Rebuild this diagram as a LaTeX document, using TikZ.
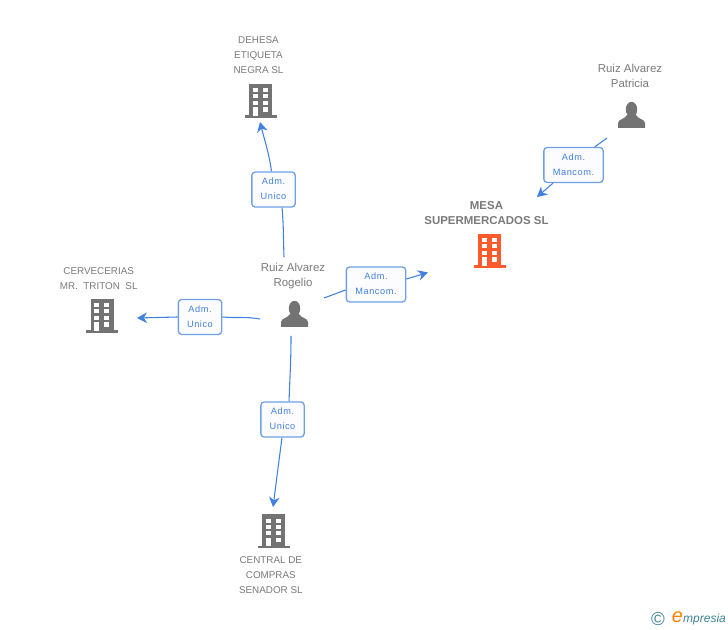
\documentclass[tikz,border=0pt]{standalone}
\usepackage{fontspec}
\setmainfont{Liberation Sans}
\usetikzlibrary{positioning,arrows.meta}

\definecolor{linkblue}{HTML}{4080E0}
\definecolor{icongray}{HTML}{737373}
\definecolor{textgray}{HTML}{7A7A7A}
\definecolor{mesared}{HTML}{FF5A2B}
\definecolor{logoteal}{HTML}{3F8296}

\tikzset{
  x=0.75pt, y=-0.75pt,
  entity/.style={text=textgray, font=\fontsize{7.4}{11.25}\selectfont, align=center, inner sep=0pt},
  mainentity/.style={entity, font=\bfseries\fontsize{8.6}{11.25}\selectfont},
  personname/.style={entity, font=\fontsize{8.6}{11.25}\selectfont},
  role/.style={draw=linkblue!75, line width=1pt, rounded corners=2.5pt, fill=blue!1,
    text=linkblue, font=\addfontfeature{LetterSpace=6}\fontsize{6.9}{11.25}\selectfont,
    align=center, inner sep=0pt, minimum height=26.25pt},
  link/.style={draw=linkblue, line width=0.8pt},
  arrowlink/.style={link, -{Stealth[length=7.5pt,width=8pt]}},
  building/.pic={
    \fill (-11.5,-17) rectangle (11.5,15);
    \fill (-16,14.5) rectangle (16,17);
    \foreach \col in {-8,2}
      \foreach \row in {-12.5,-6.5,0}
        \fill[white] (\col,\row) rectangle ++(5.2,4);
    \fill[white] (-8,6.5) rectangle (-3,15);
    \fill[white] (2,6.5) rectangle (7.2,11);
  },
  person/.pic={
    \fill (0,-5.5) ellipse (5.7 and 7.7);
    \fill (-13.5,13) -- (-13.5,8) .. controls (-13,4) and (-7,4.5) .. (-4.5,0)
      -- (4.5,0) .. controls (7,4.5) and (13,4) .. (13.5,8) -- (13.5,13) -- cycle;
  },
}

\begin{document}
\begin{tikzpicture}
  \useasboundingbox (0,0) rectangle (728,630);

  % icons
  \coordinate (dehesa) at (260.5,101);
  \coordinate (cervecerias) at (102,316);
  \coordinate (central) at (273.5,531);
  \coordinate (mesa) at (489.5,251);
  \coordinate (rogelio) at (294.5,314);
  \coordinate (patricia) at (631.5,115);
  \pic[icongray] at (dehesa) {building};
  \pic[icongray] at (cervecerias) {building};
  \pic[icongray] at (central) {building};
  \pic[mesared] at (mesa) {building};
  \pic[icongray] at (rogelio) {person};
  \pic[icongray] at (patricia) {person};

  % names
  \node[entity, above=20pt of dehesa, xshift=-1.5pt] (dehesaname) {DEHESA\\ETIQUETA\\NEGRA SL};
  \node[entity, above=19.5pt of cervecerias, xshift=-2.5pt] (cerveceriasname) {CERVECERIAS\\MR.\ \ TRITON\ \ SL};
  \node[entity, below=18.8pt of central, xshift=-2pt] (centralname) {CENTRAL DE\\COMPRAS\\SENADOR SL};
  \node[mainentity] (mesaname) at (486.5,213) {MESA\\SUPERMERCADOS SL};
  \node[personname] (rogelioname) at (293,276.5) {Ruiz Alvarez\\Rogelio};
  \node[personname] (patricianame) at (630,76) {Ruiz Alvarez\\Patricia};

  % roles
  \node[role, minimum width=32.5pt] (roledehesa) at (273.5,189.5) {\strut Adm.\\\strut Unico};
  \node[role, minimum width=32.5pt] (rolecerv) at (200,317) {\strut Adm.\\\strut Unico};
  \node[role, minimum width=32.5pt] (rolecentral) at (282.5,419.5) {\strut Adm.\\\strut Unico};
  \node[role, minimum width=44.5pt] (rolemesa) at (376,284.5) {\strut Adm.\\\strut Mancom.};
  \node[role, minimum width=44.5pt] (rolepatricia) at (573.5,165) {\strut Adm.\\\strut Mancom.};

  % free ends
  \coordinate (upstart) at (284,257);
  \coordinate (upend) at (260,122);
  \coordinate (leftstart) at (260,319);
  \coordinate (leftend) at (137,318);
  \coordinate (downstart) at (291,336);
  \coordinate (downend) at (273,507);
  \coordinate (rightstart) at (324,298);
  \coordinate (rightend) at (428,272.5);
  \coordinate (patstart) at (607,138);
  \coordinate (patend) at (537,197);

  \draw[link] (upstart) to[out=92,in=-85] ([xshift=6.4pt]roledehesa.south);
  \draw[arrowlink] ([xshift=-1.5pt]roledehesa.north) to[out=98,in=-76] (upend);
  \draw[link] (leftstart) to[out=170,in=-5] (rolecerv.east);
  \draw[arrowlink] (rolecerv.west) -- (leftend);
  \draw[link] (downstart) to[out=-90,in=88] ([xshift=4.9pt]rolecentral.north);
  \draw[arrowlink] ([xshift=-0.4pt]rolecentral.south) -- (downend);
  \draw[link] (rightstart) -- ([yshift=-4.1pt]rolemesa.west);
  \draw[arrowlink] ([yshift=4.1pt]rolemesa.east) -- (rightend);
  \draw[link] (patstart) -- ([xshift=16.1pt]rolepatricia.north);
  \draw[arrowlink] ([xshift=-15.4pt]rolepatricia.south) -- (patend);

  % logo
  \node[text=logoteal, font=\fontsize{14}{14}\selectfont, inner sep=0pt] (copyr) at (658,619) {©};
  \node[text=orange, font=\itshape\fontsize{15}{15}\selectfont, inner sep=0pt] (logoe) at (677.5,617.5) {e};
  \node[text=logoteal, font=\itshape\fontsize{9}{9}\selectfont, inner sep=0pt] (logotext) at (704.5,619) {mpresia};
\end{tikzpicture}
\end{document}
